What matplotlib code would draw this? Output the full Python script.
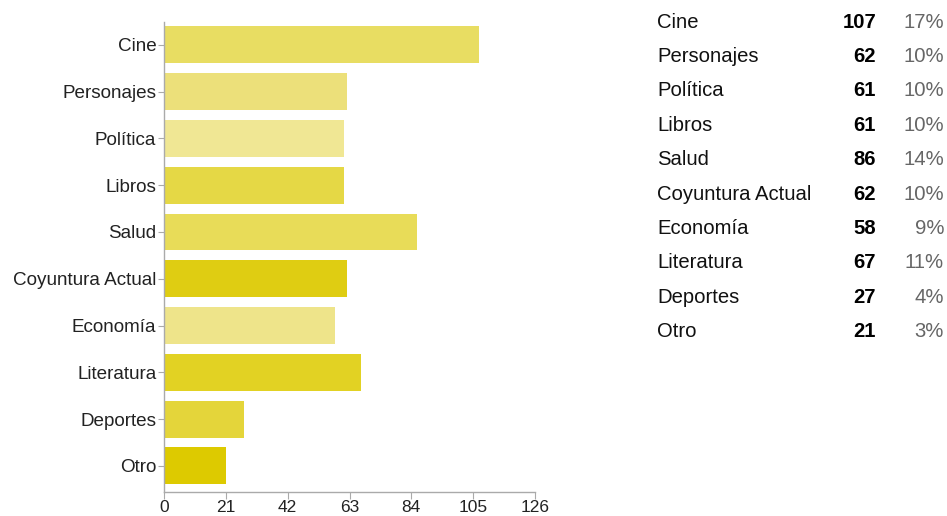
import matplotlib
matplotlib.use("Agg")
import matplotlib.pyplot as plt

categories = ["Cine", "Personajes", "Política", "Libros", "Salud",
              "Coyuntura Actual", "Economía", "Literatura", "Deportes", "Otro"]
counts = [107, 62, 61, 61, 86, 62, 58, 67, 27, 21]
percents = ["17%", "10%", "10%", "10%", "14%", "10%", "9%", "11%", "4%", "3%"]
bar_colors = ["#E8DD62", "#ECE07A", "#F0E794", "#E5D845", "#E8DC58",
              "#DFCD12", "#EEE48A", "#E2D223", "#E4D53A", "#DDCA00"]
xticks = [0, 21, 42, 63, 84, 105, 126]

plt.rcParams["font.family"] = ["Liberation Sans", "DejaVu Sans"]

W, H = 947, 516
fig = plt.figure(figsize=(W / 100, H / 100), dpi=100)
fig.patch.set_facecolor("white")

# bar chart area in pixel coordinates
x0, x1 = 164, 535
ytop, ybot = 22, 492
ax = fig.add_axes([x0 / W, (H - ybot) / H, (x1 - x0) / W, (ybot - ytop) / H])

pos = list(range(len(categories)))
ax.barh(pos, counts, height=0.79, color=bar_colors, edgecolor="none")
ax.set_ylim(9.56, -0.49)
ax.set_xlim(0, 126)
ax.set_yticks(pos)
ax.set_yticklabels(categories, fontsize=13.6, color="#222222")
ax.set_xticks(xticks)
ax.set_xticklabels([str(v) for v in xticks], fontsize=12.5, color="#222222")
for s in ["top", "right"]:
    ax.spines[s].set_visible(False)
for s in ["left", "bottom"]:
    ax.spines[s].set_color("#aaaaaa")
    ax.spines[s].set_linewidth(1.0)
ax.tick_params(axis="y", length=4, color="#aaaaaa", pad=1.5)
ax.tick_params(axis="x", length=5, color="#aaaaaa", pad=1)

# summary table on the right
row0, step = 22, 34.4
for i, (c, n, p) in enumerate(zip(categories, counts, percents)):
    y = (H - (row0 + i * step)) / H
    fig.text(657 / W, y, c, fontsize=14.6, color="#111111", ha="left", va="center")
    fig.text(876 / W, y, str(n), fontsize=14.6, color="#000000", fontweight="bold",
             ha="right", va="center")
    fig.text(944 / W, y, p, fontsize=14.6, color="#666666", ha="right", va="center")

fig.savefig("out.png", dpi=100)
